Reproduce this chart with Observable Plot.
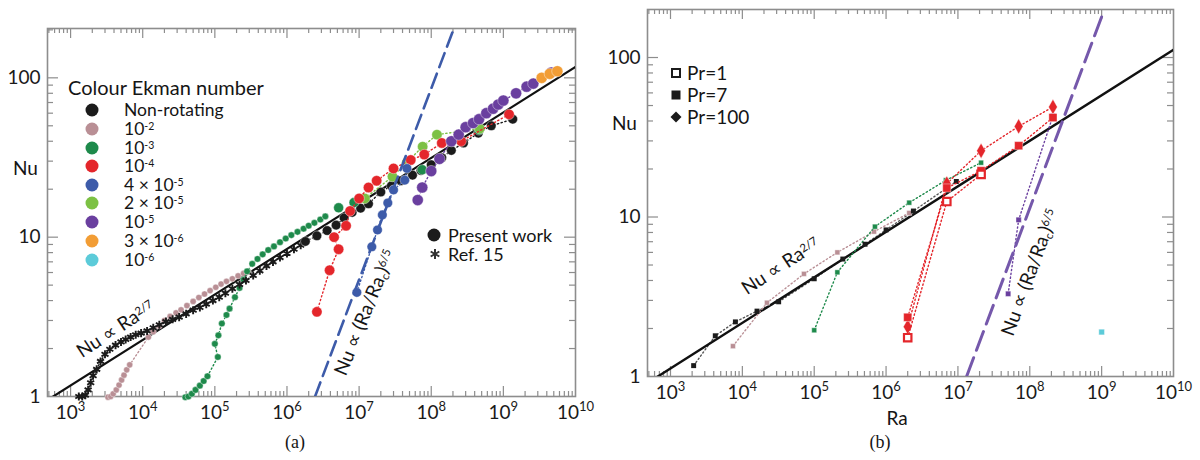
<!DOCTYPE html>
<html><head><meta charset="utf-8">
<script src="https://cdn.jsdelivr.net/npm/d3@7"></script>
<script src="https://cdn.jsdelivr.net/npm/@observablehq/plot@0.6"></script>
<style>
body{margin:0;background:#fff;}
#wrap{position:relative;width:1200px;height:460px;overflow:hidden;font-family:Lato,"Open Sans",sans-serif;color:#151515;}
#wrap svg.plot{position:absolute;top:0;}
.ov{position:absolute;white-space:nowrap;font-size:19px;line-height:0.8;}
.ov sup{font-size:0.6em;position:relative;top:-0.45em;vertical-align:baseline;line-height:0;}
.ov sub{font-size:0.6em;position:relative;top:0.3em;vertical-align:baseline;line-height:0;}
.leg{font-size:17.5px;line-height:0.75;}
.cap{font-family:"Liberation Serif","Times New Roman",serif;font-size:18px;}
</style></head><body><div id="wrap"></div>
<script>
// ---------- axis values ----------
const xMajor = [1e3,1e4,1e5,1e6,1e7,1e8,1e9,1e10];
const yMajor = [1,10,100];
const xDomain = [478.6, 1e10];
const yDomainA = [1, 204];
const yDomainB = [1, 200];

// ---------- panel (a) data: [Ra, Nu] ----------
const aBlackRef = [[1.3e3,1.0],[1.45e3,1.0],[1.6e3,1.02],[1.75e3,1.1],[1.9e3,1.22],[2.05e3,1.35],[2.3e3,1.48],[2.6e3,1.66],[3.0e3,1.84],[3.5e3,1.98],[4.2e3,2.1],[5.0e3,2.2],[5.8e3,2.28],[6.8e3,2.36],[8.0e3,2.44],[9.5e3,2.5],[1.15e4,2.58],[1.4e4,2.7],[1.7e4,2.82],[2.1e4,2.95],[2.6e4,3.05],[3.2e4,3.15],[4.0e4,3.3],[5.0e4,3.48],[6.2e4,3.62],[7.6e4,3.8],[9.4e4,4.0],[1.15e5,4.2],[1.4e5,4.45],[1.75e5,4.75],[2.2e5,5.05],[2.7e5,5.35],[3.4e5,5.75],[4.2e5,6.15],[5.2e5,6.6],[6.4e5,7.0],[8.0e5,7.45],[1.0e6,7.9],[1.25e6,8.4],[1.55e6,8.9]];
const aBlack = [[1.8e6,9.4],[2.6e6,10.2],[3.6e6,11.0],[4.8e6,11.9],[6.2e6,13.2],[8e6,14.3],[1.05e7,15.2],[1.35e7,16.2],[2e7,19.2],[2.8e7,21.0],[3.8e7,22.6],[5.5e7,24.5],[7.2e7,26.2],[1.0e8,28.5],[1.4e8,31.5],[1.9e8,35],[2.8e8,39],[4.5e8,45],[6.8e8,50],[1.35e9,55]];
const aPink = [[3.3e3,0.99],[3.6e3,1.0],[3.9e3,1.04],[4.3e3,1.1],[4.7e3,1.18],[5.1e3,1.27],[5.5e3,1.36],[6.0e3,1.47],[6.6e3,1.58],[1.2e4,2.36],[1.4e4,2.55],[1.7e4,2.78],[2.0e4,3.0],[2.4e4,3.18],[2.9e4,3.35],[3.4e4,3.5],[4.1e4,3.72],[5.0e4,3.95],[6.0e4,4.18],[7.2e4,4.4],[8.6e4,4.62],[1.03e5,4.85],[1.22e5,5.08],[1.45e5,5.28],[1.75e5,5.48],[2.1e5,5.72],[2.5e5,5.92],[2.9e5,6.08]];
const aGreen = [[3.9e4,0.99],[4.3e4,1.0],[4.8e4,1.04],[5.4e4,1.1],[6.2e4,1.17],[7.0e4,1.25],[7.9e4,1.34],[1.1e5,1.77],[1.0e5,2.14],[1.12e5,2.42],[1.25e5,2.87],[1.45e5,3.25],[1.6e5,3.56],[1.9e5,4.2],[2.2e5,4.8],[2.5e5,5.4],[2.8e5,6.1],[3.3e5,6.8],[3.9e5,7.3],[4.6e5,7.8],[5.5e5,8.3],[6.6e5,8.75],[8.0e5,9.3],[9.6e5,9.8],[1.15e6,10.3],[1.4e6,10.8],[1.7e6,11.3],[2.0e6,11.8],[2.4e6,12.3],[2.9e6,12.9],[3.4e6,13.5]];
const aGreenBig = [[5.2e6,15.3],[8.5e6,16.5],[7.5e7,26.5],[4.6e8,47]];
const aRed = [[2.6e6,3.4],[3.9e6,6.2],[5.2e6,8.4],[4.5e6,10.0],[6.6e6,11.8],[7.5e6,14.6],[1.0e7,17.5],[1.35e7,20.5],[1.75e7,22.6],[3.0e7,27],[5.2e7,30.5],[8e7,33],[1.4e8,39],[2.6e8,40],[1.2e9,59]];
const aBlue = [[9.3e6,4.5],[1.5e7,8.7],[1.8e7,11.1],[2.1e7,13.8],[2.5e7,16.4],[3e7,19.8],[4.3e7,22.8],[4.6e7,27]];
const aLGreen = [[1.2e7,17.5],[2.9e7,24],[4.6e7,29.5],[7.6e7,37],[1.2e8,44],[4.7e8,48]];
const aPurple = [[6.5e7,17.1],[7.5e7,20.5],[1.0e8,26],[1.3e8,31],[1.9e8,40],[2.4e8,44],[3.0e8,49],[3.8e8,52],[4.6e8,55],[5.8e8,60],[7.2e8,64],[8.5e8,68],[1.0e9,72],[1.5e9,80],[2.1e9,88],[2.6e9,92],[4.6e9,108]];
const aOrange = [[3.4e9,100],[4.4e9,106],[5.6e9,110]];
const aFit = [[478.6,0.95],[1e10,117]];          // Nu ∝ Ra^(2/7)
const aOnset = [[2.45e6,1],[2.06e8,204]];        // Nu ∝ (Ra/Ra_c)^(6/5)

// ---------- panel (b) data: [Ra, Nu] ----------
const bBlack = [[2.1e3,1.17],[4.2e3,1.8],[8e3,2.2],[1.6e4,2.57],[3.2e4,2.94],[1e5,4.1],[2.5e5,5.45],[5.1e5,6.75],[1e6,8.3],[2.4e6,10.9],[9.5e6,16.7]];
const bPink = [[7.4e3,1.55],[2.2e4,2.9],[7.2e4,4.4],[2.1e5,6.0],[6.8e5,8.1],[2.1e6,10.6]];
const bGreen = [[1e5,1.95],[2.1e5,4.5],[7e5,8.7],[2.1e6,12.3],[6.8e6,17],[2.1e7,21.9]];
const bRedPr1 = [[2e6,1.75],[7e6,12.5],[2.1e7,18.5]];
const bRedPr7 = [[2e6,2.35],[7e6,15.2],[2.1e7,19.5],[7e7,28],[2.1e8,42]];
const bRedPr100 = [[2e6,2.05],[7e6,16.2],[2.1e7,26],[7e7,37],[2.1e8,49]];
const bPurple = [[5e7,3.3],[7e7,9.6],[2.1e8,43]];
const bCyan = [[1e9,1.9]];
const bFit = [[478.6,0.91],[1e10,112]];
const bOnset = [[1.32e7,1],[1.07e9,195]];

// ---------- legend labels ----------
const ekmanLabels = ["Non-rotating","10<sup>-2</sup>","10<sup>-3</sup>","10<sup>-4</sup>","4 × 10<sup>-5</sup>","2 × 10<sup>-5</sup>","10<sup>-5</sup>","3 × 10<sup>-6</sup>","10<sup>-6</sup>"];
const prLabels = ["Pr=1","Pr=7","Pr=100"];

const C = {black:"#1b1b1b", pink:"#b98f95", dgreen:"#1e8a4b", red:"#e4262b", blue:"#3d5ba9", lgreen:"#7cc144", purple:"#6a3f9f", orange:"#f29d35", cyan:"#5ccbd9"};
const ekmanColors = [C.black,C.pink,C.dgreen,C.red,C.blue,C.lgreen,C.purple,C.orange,C.cyan];
const AX = "#8d8d8d";

function minorTicks(lo, hi){
  const out=[];
  for(let e=-1;e<=10;e++) for(let m=2;m<=9;m++){const v=m*Math.pow(10,e); if(v>lo*1.001 && v<hi*0.999) out.push(v);}
  return out;
}
const X = d=>d[0], Y = d=>d[1];

function frameMarks(w,h,ml,mr,mt,mb,yDom){
  const fw=w-ml-mr, fh=h-mt-mb;
  const xMin=minorTicks(xDomain[0],xDomain[1]), yMin=minorTicks(yDom[0],yDom[1]);
  const xMaj=xMajor.filter(v=>v>xDomain[0]&&v<xDomain[1]);
  const yMaj=yMajor.filter(v=>v>yDom[0]&&v<yDom[1]);
  const s={stroke:AX, strokeWidth:1.2};
  return [
    Plot.ruleX(xMaj,{x:d=>d, insetTop:fh-10, ...s}),
    Plot.ruleX(xMin,{x:d=>d, insetTop:fh-5, ...s}),
    Plot.ruleX(xMaj,{x:d=>d, insetBottom:fh-10, ...s}),
    Plot.ruleX(xMin,{x:d=>d, insetBottom:fh-5, ...s}),
    Plot.ruleY(yMaj,{y:d=>d, insetRight:fw-11, ...s}),
    Plot.ruleY(yMin,{y:d=>d, insetRight:fw-6, ...s}),
    Plot.ruleY(yMaj,{y:d=>d, insetLeft:fw-11, ...s}),
    Plot.ruleY(yMin,{y:d=>d, insetLeft:fw-6, ...s}),
    Plot.frame({stroke:AX, strokeWidth:1.6}),
    Plot.axisX({ticks:xMajor, tickSize:0, tickPadding:9, tickFormat:d=>"10^"+Math.round(Math.log10(d)), label:null, fill:"#1a1a1a"}),
    Plot.axisY({ticks:yMajor, tickSize:0, tickPadding:7, tickFormat:d=>String(d), label:null, fill:"#1a1a1a"})
  ];
}
function series(data, color, o={}){
  const marks=[];
  if(o.line!==false) marks.push(Plot.line(data,{x:X,y:Y,stroke:color,strokeWidth:1.4,strokeDasharray:"1.3,2.6",clip:true}));
  if(o.symbol==="asterisk") marks.push(Plot.dot(data,{x:X,y:Y,r:o.r||3.5,symbol:"asterisk",stroke:color,strokeWidth:1.9}));
  else if(o.hollow) marks.push(Plot.dot(data,{x:X,y:Y,r:o.r||4,symbol:o.symbol||"circle",fill:"white",stroke:color,strokeWidth:2.2}));
  else marks.push(Plot.dot(data,{x:X,y:Y,r:o.r||5,symbol:o.symbol||"circle",fill:color,stroke:"white",strokeWidth:0.4}));
  return marks;
}
function fixSup(svg){
  svg.querySelectorAll("text").forEach(t=>{
    const s=t.textContent; if(!s.includes("^")) return;
    const [b,e]=s.split("^"); t.textContent=b;
    const ts=document.createElementNS("http://www.w3.org/2000/svg","tspan");
    ts.setAttribute("dy","-8"); ts.setAttribute("font-size","13"); ts.textContent=e; t.appendChild(ts);
  });
}
const common = {width:600, height:460, style:{fontFamily:"Lato, 'Open Sans', sans-serif", fontSize:"19px", background:"transparent", overflow:"visible"}};

// ---------- panel (a) ----------
const A = {ml:47, mr:25, mt:28, mb:64};
const plotA = Plot.plot({
  ...common, marginLeft:A.ml, marginRight:A.mr, marginTop:A.mt, marginBottom:A.mb,
  x:{type:"log", domain:xDomain}, y:{type:"log", domain:yDomainA},
  marks:[
    ...frameMarks(600,460,A.ml,A.mr,A.mt,A.mb,yDomainA),
    Plot.line(aFit,{x:X,y:Y,stroke:"#111",strokeWidth:2.2,clip:true}),
    ...series(aPink,C.pink,{r:3.1}),
    ...series(aGreen,C.dgreen,{r:3.3}),
    ...series(aBlackRef,C.black,{symbol:"asterisk",r:3.8}),
    ...series(aBlack,C.black,{r:4.8}),
    ...series(aGreenBig,C.dgreen,{r:5,line:false}),
    ...series(aLGreen,C.lgreen,{r:5.2}),
    ...series(aRed,C.red,{r:5.2}),
    ...series(aBlue,C.blue,{r:4.8}),
    ...series(aPurple,C.purple,{r:5.6}),
    ...series(aOrange,C.orange,{r:5.6}),
    Plot.line(aOnset,{x:X,y:Y,stroke:C.blue,strokeWidth:2.6,strokeDasharray:"15,7",clip:true})
  ]
});
plotA.classList.add("plot"); plotA.style.left="0px"; fixSup(plotA);

// ---------- panel (b) ----------
const B = {ml:47, mr:27, mt:9, mb:84};
const plotB = Plot.plot({
  ...common, marginLeft:B.ml, marginRight:B.mr, marginTop:B.mt, marginBottom:B.mb,
  x:{type:"log", domain:xDomain}, y:{type:"log", domain:yDomainB},
  marks:[
    ...frameMarks(600,460,B.ml,B.mr,B.mt,B.mb,yDomainB),
    ...series(bBlack,"#555",{line:true,r:0.01}),
    Plot.line(bFit,{x:X,y:Y,stroke:"#111",strokeWidth:2.4,clip:true}),
    ...series(bPink,C.pink,{symbol:"square",r:2.8}),
    ...series(bGreen,C.dgreen,{symbol:"square",r:2.8}),
    Plot.dot(bBlack,{x:X,y:Y,r:2.8,symbol:"square",fill:C.black}),
    ...series(bPurple,C.purple,{symbol:"square",r:3}),
    ...series(bRedPr100,C.red,{symbol:"diamond",r:4.6}),
    ...series(bRedPr7,C.red,{symbol:"square",r:4.6}),
    ...series(bRedPr1,C.red,{symbol:"square",r:4.2,hollow:true}),
    ...series(bCyan,C.cyan,{symbol:"square",r:3.2,line:false}),
    Plot.line(bOnset,{x:X,y:Y,stroke:"#7558ab",strokeWidth:3,strokeDasharray:"20,8",clip:true})
  ]
});
plotB.classList.add("plot"); plotB.style.left="600px"; fixSup(plotB);

const wrap=document.getElementById("wrap");
wrap.appendChild(plotA); wrap.appendChild(plotB);

// ---------- overlay text ----------
function ov(html,x,y,o={}){
  const d=document.createElement("div"); d.className="ov"+(o.cls?" "+o.cls:"");
  d.innerHTML=html; d.style.left=x+"px"; d.style.top=y+"px";
  if(o.size) d.style.fontSize=o.size+"px";
  const tx=o.anchor==="middle"?"-50%":o.anchor==="end"?"-100%":"0";
  d.style.transform=`translate(${tx},-50%)`+(o.rotate?` rotate(${o.rotate}deg)`:"");
  wrap.appendChild(d); return d;
}
function swatch(x,y,kind,color){
  const d=document.createElement("div"); d.style.position="absolute";
  d.style.left=(x-8)+"px"; d.style.top=(y-8)+"px";
  let svg='';
  if(kind==="dot") svg=`<circle cx="8" cy="8" r="6.5" fill="${color}"/>`;
  if(kind==="ast") svg=`<g stroke="${color}" stroke-width="2"><line x1="8" y1="3" x2="8" y2="13"/><line x1="3.7" y1="5.5" x2="12.3" y2="10.5"/><line x1="3.7" y1="10.5" x2="12.3" y2="5.5"/></g>`;
  if(kind==="hsq") svg=`<rect x="4" y="4" width="8" height="8" fill="white" stroke="${color}" stroke-width="2"/>`;
  if(kind==="sq") svg=`<rect x="3.5" y="3.5" width="9" height="9" fill="${color}"/>`;
  if(kind==="dia") svg=`<path d="M8 2.5 L13.5 8 L8 13.5 L2.5 8Z" fill="${color}"/>`;
  d.innerHTML=`<svg width="16" height="16">${svg}</svg>`; wrap.appendChild(d);
}
// panel (a)
ov("Nu",13,168);
ov("Colour Ekman number",68,87,{size:20});
const ekY=[110,129,148,166,185,203,222,241,260];
ekmanLabels.forEach((t,i)=>{ swatch(92,ekY[i],"dot",ekmanColors[i]); ov(t,124,ekY[i],{cls:"leg"}); });
swatch(434,235,"dot",C.black); ov("Present work",448,235,{size:18});
swatch(435,254,"ast","#333"); ov("Ref. 15",448,254,{size:18});
ov("Nu ∝ Ra<sup>2/7</sup>",115,328,{anchor:"middle",rotate:-33,size:19});
ov("Nu ∝ (Ra/Ra<sub>c</sub>)<sup>6/5</sup>",364,312,{anchor:"middle",rotate:-68,size:19});
ov("(a)",295,442,{anchor:"middle",cls:"cap"});
// panel (b)
ov("Nu",612,123);
const prY=[73,95,117], prKind=["hsq","sq","dia"];
prLabels.forEach((t,i)=>{ swatch(676,prY[i],prKind[i],"#1b1b1b"); ov(t,687,prY[i]); });
ov("Nu ∝ Ra<sup>2/7</sup>",780,265,{anchor:"middle",rotate:-33,size:19});
ov("Nu ∝ (Ra/Ra<sub>c</sub>)<sup>6/5</sup>",1029,272,{anchor:"middle",rotate:-70,size:19});
ov("Ra",897,418,{anchor:"middle"});
ov("(b)",880,442,{anchor:"middle",cls:"cap"});
</script></body></html>
